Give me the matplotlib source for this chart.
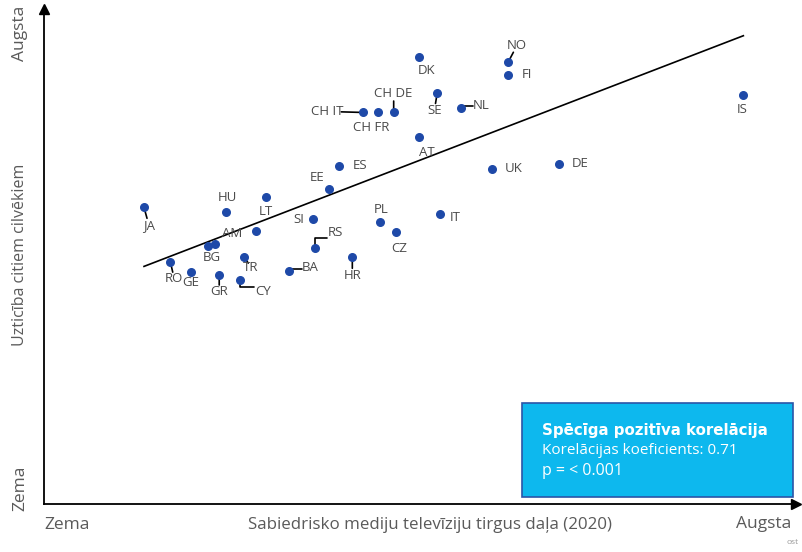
import numpy as np
import matplotlib
matplotlib.use('Agg')
import matplotlib.pyplot as plt

plt.rcParams['font.family'] = ['Open Sans', 'DejaVu Sans']

# data (0-100 scale, low -> high)
countries = ['JA', 'HU', 'LT', 'AM', 'BG', '', 'RO', 'GE', 'GR', 'TR', 'CY', 'BA',
             'SI', 'RS', 'EE', 'ES', 'DK', 'SE', 'NL', 'CH IT', 'CH FR', 'CH DE',
             'AT', 'NO', 'FI', 'IS', 'UK', 'DE', 'IT', 'PL', 'CZ', 'HR']
tv_share = [13.3, 24.2, 29.5, 28.2, 21.8, 22.7, 16.8, 19.5, 23.3, 26.6, 26.1, 32.6,
            35.8, 36.1, 37.9, 39.2, 49.9, 52.3, 55.4, 42.4, 44.4, 46.5,
            49.9, 61.7, 61.7, 93.0, 59.6, 68.5, 52.7, 44.7, 46.8, 41.0]
trust = [59.9, 58.9, 62.1, 55.2, 52.1, 52.5, 48.9, 46.9, 46.3, 50.0, 45.2, 47.1,
         57.6, 51.7, 63.6, 68.3, 90.4, 83.1, 80.1, 79.1, 79.1, 79.1,
         74.1, 89.2, 86.7, 82.6, 67.7, 68.7, 58.6, 56.9, 54.9, 49.8]
trend_x = [13.3, 93.0]
trend_y = [48.0, 94.6]

# label offsets in pixels (dx right, dy down) and leader flag
label_pos = {
    'JA': (5, 18, True), 'HU': (1, -15, False), 'LT': (0, 15, False),
    'AM': (-24, 3, False), 'BG': (4, 11, False), 'RO': (4, 17, True),
    'GE': (0, 11, False), 'GR': (0, 17, True), 'TR': (7, 11, True),
    'CY': (23, 11, 'angle'), 'BA': (21, -3, 'angle'), 'SI': (-14, 1, False),
    'RS': (20, -16, 'angle'), 'EE': (-12, -12, False), 'ES': (21, 0, False),
    'DK': (7, 14, False), 'SE': (-3, 18, True), 'NL': (21, -2, 'angle'),
    'CH IT': (-36, -1, True), 'CH FR': (-7, 15, False), 'CH DE': (0, -19, True),
    'AT': (8, 15, False), 'NO': (9, -17, True), 'FI': (19, 0, False),
    'IS': (-1, 14, False), 'UK': (21, 0, False), 'DE': (21, 0, False),
    'IT': (15, 4, False), 'PL': (1, -13, False), 'CZ': (3, 16, False),
    'HR': (0, 18, True),
}

fig = plt.figure(figsize=(8.03, 5.52), dpi=100)
ax = fig.add_axes([44/803, 1-504/552, (796-44)/803, (504-9)/552])
ax.set_xlim(0, 100)
ax.set_ylim(0, 100)
for s in ['top', 'right']:
    ax.spines[s].set_visible(False)
for s in ['left', 'bottom']:
    ax.spines[s].set_linewidth(1.3)
ax.set_xticks([])
ax.set_yticks([])
ax.plot(1, 0, '>k', ms=7, transform=ax.transAxes, clip_on=False)
ax.plot(0, 1, '^k', ms=7, transform=ax.transAxes, clip_on=False)

ax.plot(trend_x, trend_y, color='black', lw=1.2, zorder=2)
ax.scatter(tv_share, trust, s=30, color='#1e49a8', zorder=3)

for name, x, y in zip(countries, tv_share, trust):
    if not name:
        continue
    dx, dy, leader = label_pos[name]
    ax.annotate(name, (x, y), xytext=(dx, -dy), textcoords='offset pixels',
                ha='center', va='center', fontsize=9.5, color='#4a4a4a', zorder=4)
    if leader:
        cs = 'angle,angleA=0,angleB=90,rad=0' if leader == 'angle' else 'arc3'
        ax.annotate('', (x, y), xytext=(dx * 0.6, -dy * 0.6), textcoords='offset pixels',
                    arrowprops=dict(arrowstyle='-', color='black', lw=1.2,
                                    shrinkA=0, shrinkB=0, connectionstyle=cs), zorder=2)

gray = '#5a5a5a'
fig.text(20/803, 1-33/552, 'Augsta', rotation=90, ha='center', va='center', fontsize=12.5, color=gray)
fig.text(20/803, 1-255/552, 'Uzticība citiem cilvēkiem', rotation=90, ha='center', va='center', fontsize=11.5, color=gray)
fig.text(20/803, 1-488/552, 'Zema', rotation=90, ha='center', va='center', fontsize=12.5, color=gray)
fig.text(67/803, 1-525/552, 'Zema', ha='center', va='center', fontsize=12.5, color=gray)
fig.text(430/803, 1-525/552, 'Sabiedrisko mediju televīziju tirgus daļa (2020)', ha='center', va='center', fontsize=12.2, color=gray)
fig.text(764/803, 1-524/552, 'Augsta', ha='center', va='center', fontsize=12.5, color=gray)
fig.text(799/803, 1-543/552, 'ost', ha='right', va='center', fontsize=6, color='#999999')

box = plt.Rectangle((522/803, 1-497/552), (793-522)/803, (497-403)/552, transform=fig.transFigure,
                    facecolor='#0db8ee', edgecolor='#2a55a8', lw=1.2, zorder=5)
fig.patches.append(box)
fig.text(542/803, 1-430/552, 'Spēcīga pozitīva korelācija', ha='left', va='center', fontsize=10.8,
         fontweight='bold', color='white', zorder=6, family=['DejaVu Sans'])
fig.text(542/803, 1-451/552, 'Korelācijas koeficients: 0.71', ha='left', va='center', fontsize=11,
         color='white', zorder=6)
fig.text(542/803, 1-471/552, 'p = < 0.001', ha='left', va='center', fontsize=11.5,
         color='white', zorder=6)

fig.savefig('out.png', dpi=100)
